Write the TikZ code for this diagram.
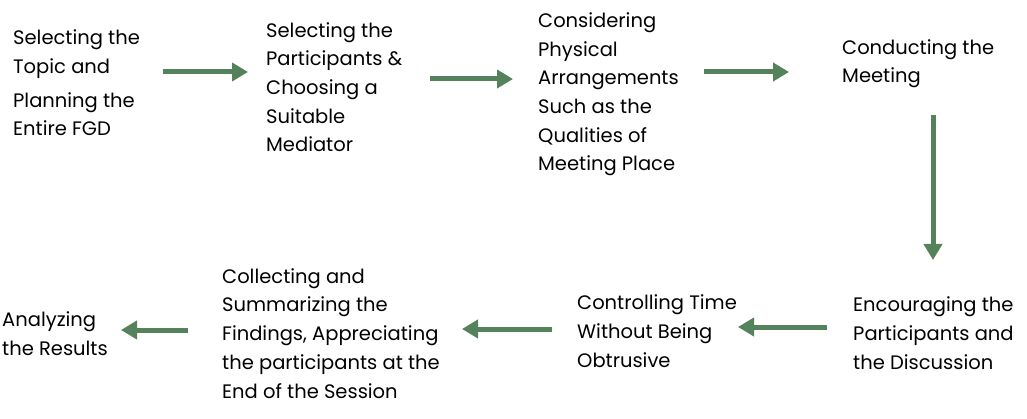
\documentclass[tikz,border=0pt]{standalone}
\usepackage{fontspec}
\setmainfont{Poppins}
\usetikzlibrary{arrows.meta}
\definecolor{arrgreen}{RGB}{84,130,90}
\tikzset{
  lbl/.style={anchor=base west, align=left, inner sep=0pt, font=\fontsize{19.5}{28.7}\selectfont},
  flow/.style={draw=arrgreen, line width=5pt, -{Triangle[length=16pt,width=18pt]}}
}
\begin{document}
\begin{tikzpicture}[x=1pt,y=-1pt]
\useasboundingbox (0,0) rectangle (1027,419);
% anchors at the baseline of each text's last line
\node[lbl] (n1) at (13,136) {Selecting the\\Topic and\\[5pt]Planning the\\Entire FGD};
\node[lbl] (n2) at (266,152) {Selecting the\\Participants \&\\Choosing a\\Suitable\\Mediator};
\node[lbl] (n3) at (538,171) {Considering\\Physical\\Arrangements\\Such as the\\Qualities of\\Meeting Place};
\node[lbl] (n4) at (842,83) {Conducting the\\Meeting};
\node[lbl] (n5) at (853,369) {Encouraging the\\Participants and\\the Discussion};
\node[lbl] (n6) at (577,367) {Controlling Time\\Without Being\\Obtrusive};
\node[lbl] (n7) at (222,398) {Collecting and\\Summarizing the\\Findings, Appreciating\\the participants at the\\End of the Session};
\node[lbl] (n8) at (2,355) {Analyzing\\the Results};
\coordinate (a1s) at (163,72); \coordinate (a1e) at (248,72);
\coordinate (a2s) at (430,79); \coordinate (a2e) at (513,79);
\coordinate (a3s) at (704,72); \coordinate (a3e) at (789,72);
\coordinate (a4s) at (933,115); \coordinate (a4e) at (933,260);
\coordinate (a5s) at (827,327); \coordinate (a5e) at (738,327);
\coordinate (a6s) at (552,329); \coordinate (a6e) at (462,329);
\coordinate (a7s) at (188,330); \coordinate (a7e) at (121,330);
\draw[flow] (a1s) -- (a1e);
\draw[flow] (a2s) -- (a2e);
\draw[flow] (a3s) -- (a3e);
\draw[flow] (a4s) -- (a4e);
\draw[flow] (a5s) -- (a5e);
\draw[flow] (a6s) -- (a6e);
\draw[flow] (a7s) -- (a7e);
\end{tikzpicture}
\end{document}
